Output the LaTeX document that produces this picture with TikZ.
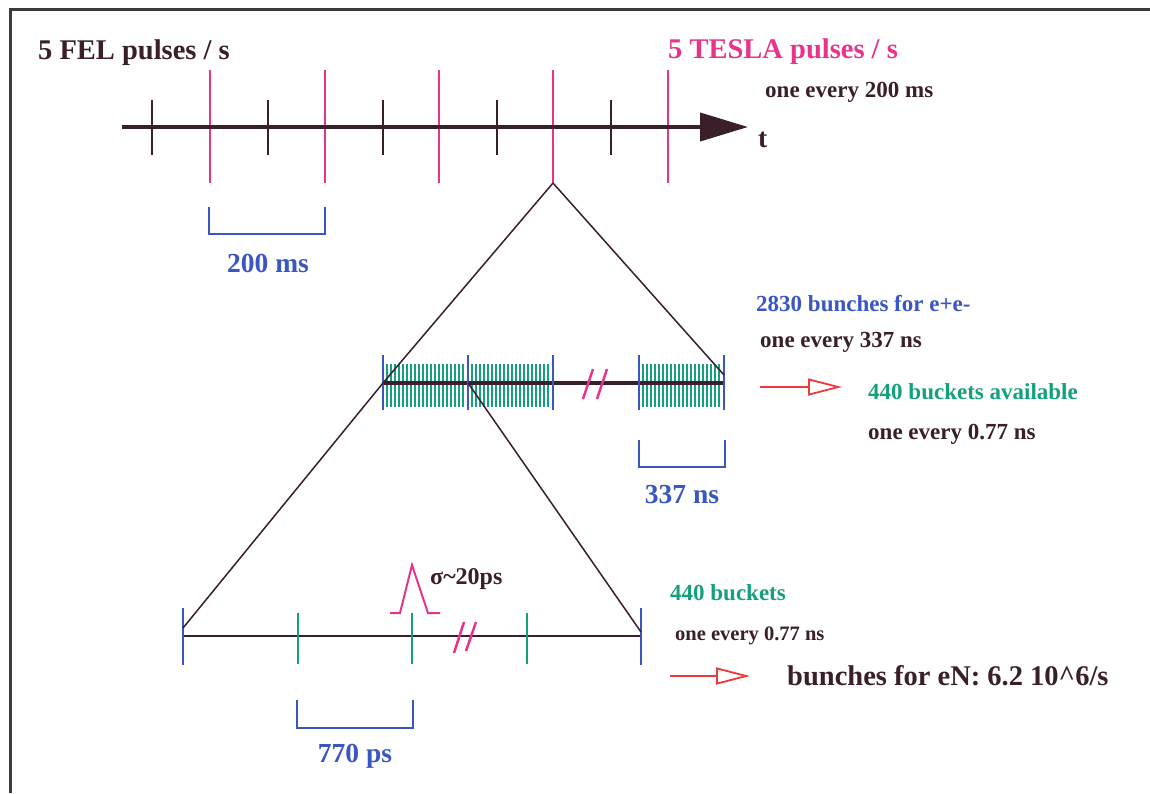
\documentclass[tikz,border=0pt]{standalone}
\usepackage{fontspec}
\setmainfont{Liberation Serif}
\usetikzlibrary{arrows.meta}
\definecolor{ink}{HTML}{3A1E2A}
\definecolor{mag}{HTML}{E8338A}
\definecolor{blu}{HTML}{3A55C4}
\definecolor{grn}{HTML}{14A07C}
\definecolor{redar}{HTML}{F03A3A}
\definecolor{framec}{HTML}{3A3A3A}
\begin{document}
\begin{tikzpicture}[x=1pt,y=-1pt,
  every node/.style={inner sep=0pt},
  lbl/.style={anchor=base west},
  clbl/.style={anchor=base},
  fA/.style={font=\bfseries\fontsize{28.5}{30}\selectfont},
  fB/.style={font=\bfseries\fontsize{23}{25}\selectfont},
  fC/.style={font=\bfseries\fontsize{20.5}{22}\selectfont},
  fD/.style={font=\bfseries\fontsize{27.5}{29}\selectfont},
  tick/.style={ink, line width=2.5pt},
  pulse/.style={mag, line width=2.5pt},
  bluetick/.style={blu, line width=2.5pt},
  greentick/.style={grn, line width=2pt},
  bar/.style={grn, line width=2.1pt},
  bracket/.style={blu, line width=2.5pt},
  zoomline/.style={ink, line width=1.5pt},
  brk/.style={mag, line width=2.5pt},
  redarrow/.style={redar, line width=1.8pt, -{Triangle[open, length=34pt, width=17pt, fill=white]}}
]
\useasboundingbox (0,0) rectangle (1150,793);
% frame
\draw[framec, line width=3pt] (10,793) -- (10,9) -- (1150,9);

% ---- top time axis
\coordinate (ax0) at (122,127);
\coordinate (ax1) at (748,127);
\foreach \x in {152,268,383,497,611} \draw[tick] (\x,100) -- (\x,155);
\foreach \x/\n in {210/1,325/2,439/3,553/4,668/5} {
  \draw[pulse] (\x,70) -- (\x,183);
  \coordinate (p\n) at (\x,183);
}
\draw[ink, line width=4pt, -{Triangle[length=48pt,width=28pt]}] (ax0) -- (ax1);

\node[lbl, fA, text=ink] (fel) at (38,59) {5 FEL pulses / s};
\node[lbl, fA, text=mag] (tesla) at (668,58) {5 TESLA pulses / s};
\node[lbl, fB, text=ink] (e200) at (765,97) {one every 200 ms};
\node[lbl, fD, text=ink] (t) at (758,147) {t};

% bracket 200 ms
\draw[bracket] (209,207) -- (209,234) -- (325,234) -- (325,207);
\node[clbl, fD, text=blu] (l200) at (268,272) {200 ms};

% ---- middle axis
\foreach \s in {387,472,643} {
  \foreach \i in {0,...,19} \draw[bar] ({\s+\i*4},364) -- ({\s+\i*4},407);
}
\coordinate (m0) at (383,383);
\coordinate (m1) at (468,383);
\coordinate (m4) at (724,383);
\draw[ink, line width=4pt] (m0) -- (m4);
\foreach \x in {383,468,553,639,724} \draw[bluetick] (\x,355) -- (\x,410);
\draw[brk] (583,399) -- (593,369);
\draw[brk] (597,399) -- (607,369);

\coordinate (m4t) at (724,375);
\draw[zoomline] (p4) -- (m0);
\draw[zoomline] (p4) -- (m4t);

\node[lbl, fB, text=blu] (b2830) at (756,311) {2830 bunches for e+e-};
\node[lbl, fB, text=ink] (e337) at (760,347) {one every 337 ns};
\coordinate (r1s) at (760,387);
\coordinate (r1e) at (842,387);
\draw[redarrow] (r1s) -- (r1e);
\node[lbl, fB, text=grn] (avail) at (868,399) {440 buckets available};
\node[lbl, fB, text=ink] (e077a) at (868,439) {one every 0.77 ns};

% bracket 337 ns
\draw[bracket] (639,440) -- (639,467) -- (725,467) -- (725,440);
\node[clbl, fD, text=blu] (l337) at (682,503) {337 ns};

% ---- bottom axis
\coordinate (b0) at (183,636);
\coordinate (b1) at (641,636);
\coordinate (b0t) at (183,628);
\coordinate (b1t) at (641,632);
\draw[ink, line width=2pt] (b0) -- (b1);
\foreach \x in {183,641} \draw[bluetick] (\x,608) -- (\x,665);
\foreach \x in {298,412,527} \draw[greentick] (\x,613) -- (\x,664);
\draw[brk] (454,653) -- (464,622);
\draw[brk] (466,651) -- (476,622);
\draw[zoomline] (m0) -- (b0t);
\draw[zoomline] (m1) -- (b1t);

% bunch shape
\draw[mag, line width=2pt, line join=miter] (390,613) -- (400,613) -- (412,565) -- (428,613) -- (440,613);
\node[lbl, font=\bfseries\fontsize{24}{26}\selectfont, text=ink] (sigma) at (430,584) {σ\textasciitilde20ps};

\node[lbl, fB, text=grn] (b440) at (670,600) {440 buckets};
\node[lbl, fC, text=ink] (e077b) at (675,640) {one every 0.77 ns};
\coordinate (r2s) at (670,676);
\coordinate (r2e) at (750,676);
\draw[redarrow] (r2s) -- (r2e);
\node[lbl, fA, text=ink] (eN) at (787,685) {bunches for eN: 6.2 10\^{}6/s};

% bracket 770 ps
\draw[bracket] (297,700) -- (297,728) -- (413,728) -- (413,700);
\node[clbl, fD, text=blu] (l770) at (355,762) {770 ps};
\end{tikzpicture}
\end{document}
